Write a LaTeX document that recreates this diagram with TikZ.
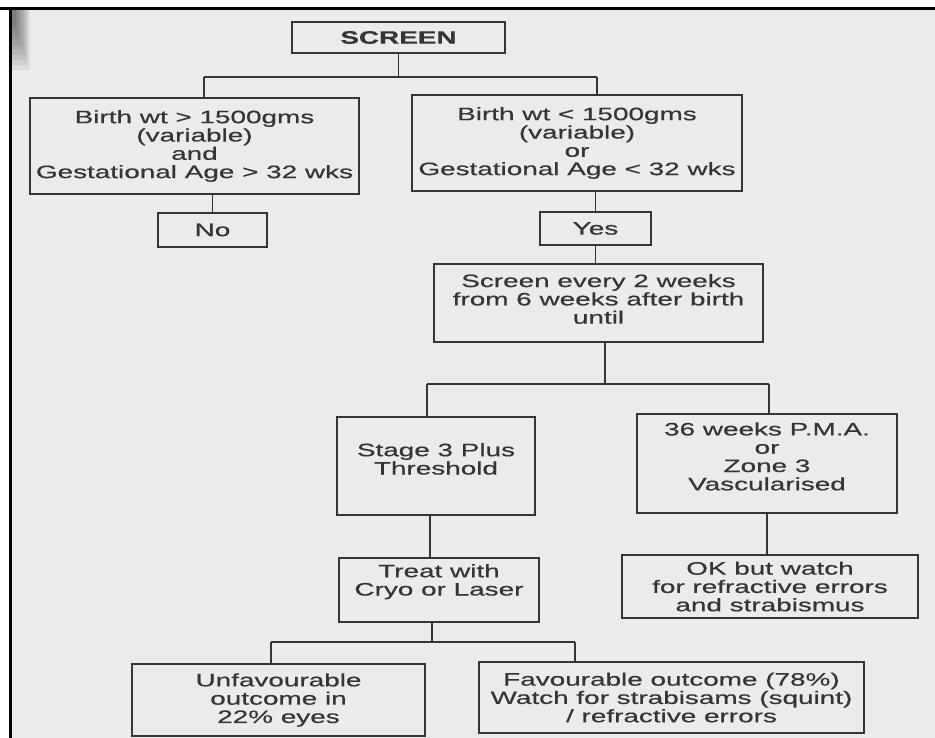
\documentclass[tikz,border=0pt]{standalone}
\usepackage{fontspec}
\setmainfont{Liberation Sans}[FakeStretch=1.55,FakeBold=0.5]
\usetikzlibrary{calc}
\definecolor{page}{HTML}{EBEBEB}
\definecolor{ink}{HTML}{353535}
\begin{document}
\begin{tikzpicture}[x=1pt,y=-1pt,
  box/.style={draw=ink, line width=1.8pt, align=center, inner sep=0pt, text=ink,
              font=\fontsize{18}{18.3}\selectfont},
  conn/.style={draw=ink, line width=1.8pt}]
\useasboundingbox (0,0) rectangle (935,738);
% page
\fill[white] (0,0) rectangle (935,738);
\fill[page] (10,9) rectangle (935,738);
\foreach \i in {0,...,9}{
  \fill[black, opacity=0.06] (11,9) rectangle ({30-1.6*\i},{70-5*\i});
}

% boxes
\node[box, minimum width=213pt, minimum height=31pt] (screen) at (398.5,37.5) {\textbf{SCREEN}};
\node[box, minimum width=329pt, minimum height=96pt] (bwgt) at (194.5,146)
  {Birth wt > 1500gms\\(variable)\\and\\Gestational Age > 32 wks};
\node[box, minimum width=330pt, minimum height=96pt] (bwlt) at (577,143)
  {Birth wt < 1500gms\\(variable)\\or\\Gestational Age < 32 wks};
\node[box, minimum width=109pt, minimum height=34pt] (no) at (212.5,230) {No};
\node[box, minimum width=111pt, minimum height=33pt] (yes) at (595.5,228.5) {Yes};
\node[box, minimum width=329pt, minimum height=78pt] (every) at (598.5,303)
  {Screen every 2 weeks\\from 6 weeks after birth\\until\\[-10pt]\mbox{}};
\node[box, minimum width=198pt, minimum height=98pt] (stage) at (436,466)
  {Stage 3 Plus\\Threshold\\[-4pt]\mbox{}};
\node[box, minimum width=260pt, minimum height=99pt] (pma) at (767,463.5)
  {36 weeks P.M.A.\\or\\Zone 3\\Vascularised\\[-4pt]\mbox{}};
\node[box, minimum width=200pt, minimum height=64pt] (treat) at (439,590)
  {Treat with\\Cryo or Laser\\[2pt]\mbox{}};
\node[box, minimum width=296pt, minimum height=63pt] (ok) at (770,586.5)
  {OK but watch\\for refractive errors\\and strabismus};
\node[box, minimum width=293pt, minimum height=72pt] (unfav) at (278.5,700)
  {Unfavourable\\outcome in\\22\% eyes};
\node[box, minimum width=385pt, minimum height=71pt] (fav) at (671.5,697.5)
  {Favourable outcome (78\%)\\Watch for strabisams (squint)\\/ refractive errors};

% junction points
\coordinate (h1l) at (204,77);
\coordinate (h1r) at (597,77);
\coordinate (h2m) at (605,384);
\coordinate (h2l) at (427,384);
\coordinate (h2r) at (769,384);
\coordinate (v3) at (430,540);
\coordinate (h3m) at (432,642);
\coordinate (h3l) at (271,642);
\coordinate (h3r) at (575,642);

% connectors
\draw[conn] (screen.south) -- (screen.south |- h1l);
\draw[conn] (h1l) -- (h1r);
\draw[conn] (h1l) -- (h1l |- bwgt.north);
\draw[conn] (h1r) -- (h1r |- bwlt.north);
\draw[conn] (no.north |- bwgt.south) -- (no.north);
\draw[conn] (yes.north |- bwlt.south) -- (yes.north);
\draw[conn] (yes.south) -- (yes.south |- every.north);
\draw[conn] (h2m |- every.south) -- (h2m);
\draw[conn] (h2l) -- (h2r);
\draw[conn] (h2l) -- (h2l |- stage.north);
\draw[conn] (h2r) -- (h2r |- pma.north);
\draw[conn] (v3 |- stage.south) -- (v3 |- treat.north);
\draw[conn] (pma.south) -- (pma.south |- ok.north);
\draw[conn] (h3m |- treat.south) -- (h3m);
\draw[conn] (h3l) -- (h3r);
\draw[conn] (h3l) -- (h3l |- unfav.north);
\draw[conn] (h3r) -- (h3r |- fav.north);

% right margin cover and photo border
\fill[page] (922,9) rectangle (935,738);
\fill[black] (0,7) rectangle (935,10);
\fill[black] (9,7) rectangle (12,738);
\end{tikzpicture}
\end{document}
